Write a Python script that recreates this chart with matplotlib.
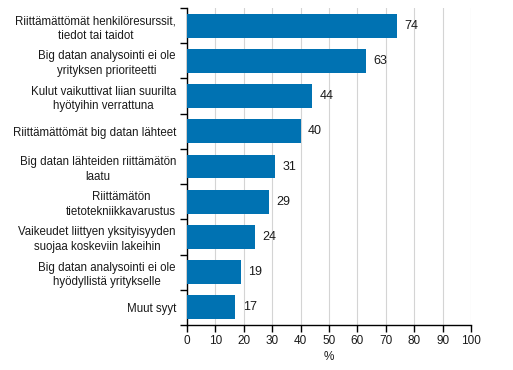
import matplotlib
matplotlib.use("Agg")
import matplotlib.pyplot as plt
import numpy as np

categories = [
    "Riittämättömät henkilöresurssit,\ntiedot tai taidot",
    "Big datan analysointi ei ole\nyrityksen prioriteetti",
    "Kulut vaikuttivat liian suurilta\nhyötyihin verrattuna",
    "Riittämättömät big datan lähteet",
    "Big datan lähteiden riittämätön\nlaatu",
    "Riittämätön\ntietotekniikkavarustus",
    "Vaikeudet liittyen yksityisyyden\nsuojaa koskeviin lakeihin",
    "Big datan analysointi ei ole\nhyödyllistä yritykselle",
    "Muut syyt",
]
values = [74, 63, 44, 40, 31, 29, 24, 19, 17]
xticks = [0, 10, 20, 30, 40, 50, 60, 70, 80, 90, 100]

plt.rcParams['font.family'] = ['Liberation Sans', 'DejaVu Sans']
fig = plt.figure(figsize=(5.13, 3.70), dpi=100)
ax = fig.add_axes([187/513, 1-325/370, (471-187)/513, (325-8)/370])

y = np.arange(len(categories))
ax.barh(y, values, height=0.68, color='#0072b2', zorder=3)
for yi, v in zip(y, values):
    ax.text(v + 2.6, yi, str(v), va='center', ha='left', fontsize=9, color='#1a1a1a')

ax.set_ylim(len(categories) - 0.5, -0.5)
ax.set_xlim(0, 100)
ax.set_xticks(xticks)
ax.set_xticklabels([str(t) for t in xticks], fontsize=8.5, color='#1a1a1a')
ax.set_yticks(y)
ax.set_yticklabels(categories, fontsize=8.3, ha='right', multialignment='center',
                   color='#1a1a1a', linespacing=1.3)
ax.tick_params(axis='y', which='major', length=0, pad=8)
ax.set_yticks(np.arange(-0.5, len(categories) + 0.5, 1), minor=True)
ax.tick_params(axis='y', which='minor', length=5, width=1, direction='out')
ax.tick_params(axis='x', length=5, width=1, direction='out', pad=2)
ax.grid(axis='x', color='#d4d4d4', linewidth=0.8, zorder=0)
for s in ['top', 'right']:
    ax.spines[s].set_visible(False)
ax.spines['left'].set_linewidth(1)
ax.spines['bottom'].set_linewidth(1)
ax.set_xlabel('%', fontsize=8.5, labelpad=3, color='#1a1a1a')

fig.savefig('out.png', dpi=100)
